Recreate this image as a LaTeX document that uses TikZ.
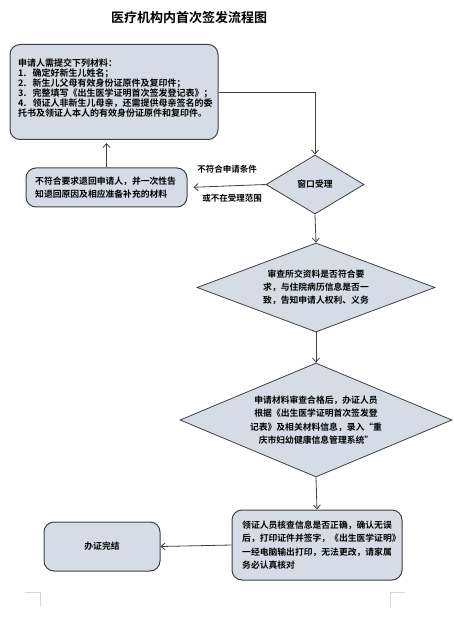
\documentclass[tikz,border=0pt]{standalone}
\usepackage{fontspec}
\setmainfont{Noto Sans CJK SC}[BoldFont={* Bold}]
\usetikzlibrary{shapes.geometric,arrows.meta}
\definecolor{boxfill}{RGB}{214,220,229}
\definecolor{boxline}{RGB}{64,64,64}
\definecolor{markgray}{RGB}{215,215,215}
\tikzset{
  every node/.style={font=\bfseries\fontsize{8.8}{13.3}\selectfont},
  rbox/.style={draw=boxline, fill=boxfill, line width=1pt, rounded corners=10pt, inner sep=0pt},
  dbox/.style={draw=boxline, fill=boxfill, line width=0.8pt, diamond, inner sep=0pt},
  conn/.style={draw=boxline, line width=0.8pt},
  arr/.style={conn, -{Straight Barb[length=4pt,width=7pt,line width=0.8pt]}},
  lbl/.style={font=\bfseries\fontsize{8.5}{10}\selectfont},
}
\begin{document}
\begin{tikzpicture}[x=1pt,y=-1pt]
\useasboundingbox (0,0) rectangle (453,628);
% title
\node[font=\bfseries\fontsize{13}{15}\selectfont] (title) at (189,18) {医疗机构内首次签发流程图};
% top box
\node[rbox, minimum width=208pt, minimum height=95pt] (top) at (114,92) {};
\node[anchor=north west, align=left, font=\bfseries\fontsize{9}{10}\selectfont, inner sep=0pt] (toptext) at (18,59) {申请人需提交下列材料：\\1.\ \ \ 确定好新生儿姓名；\\2.\ \ \ 新生儿父母有效身份证原件及复印件；\\3.\ \ \ 完整填写《出生医学证明首次签发登记表》；\\4.\ \ \ 领证人非新生儿母亲，还需提供母亲签名的委\\托书及领证人本人的有效身份证原件和复印件。};
% diamond 1
\node[dbox, minimum width=98pt, minimum height=59pt, shape aspect=1.66] (d1) at (315,184.5) {窗口受理};
% left box
\node[rbox, minimum width=161pt, minimum height=39pt] (left) at (106.5,187.5) {};
\node[anchor=west, align=left, inner sep=0pt] (lefttext) at (35,187.5) {不符合要求退回申请人，并一次性告\\知退回原因及相应准备补充的材料};
% diamond 2
\node[dbox, minimum width=238pt, minimum height=89pt, shape aspect=2.67, align=center] (d2) at (316,287.5) {审查所交资料是否符合要\\求，与住院病历信息是否一\\致，告知申请人权利、义务};
% diamond 3
\node[dbox, minimum width=272pt, minimum height=114pt, shape aspect=2.4, align=center] (d3) at (316,420) {申请材料审查合格后，办证人员\\根据《出生医学证明首次签发登\\记表》及相关材料信息，录入“重\\庆市妇幼健康信息管理系统”};
% bottom right box
\node[rbox, minimum width=170pt, minimum height=70pt] (br) at (317,545) {};
\node[anchor=west, align=left, inner sep=0pt] (brtext) at (242,545) {领证人员核查信息是否正确，确认无误\\后，打印证件并签字，《出生医学证明》\\一经电脑输出打印，无法更改，请家属\\务必认真核对};
% bottom left box
\node[rbox, minimum width=116pt, minimum height=49pt] (bl) at (102,546.5) {办证完结};
% connectors
\coordinate (c1) at (315,92);
\draw[arr] (top.east |- c1) -- (c1) -- (d1.north);
\draw[arr, shorten >=6pt] (d1.west) -- (left.east);
\node[lbl] (l1) at (227,169) {不符合申请条件};
\node[lbl] (l2) at (232,198) {或不在受理范围};
\draw[arr, shorten >=3pt] (left.north) -- (left.north |- top.south);
\draw[arr] (d1.south) -- (d2.north);
\draw[arr] (d2.south) -- (d3.north);
\draw[arr] (d3.south) -- (br.north);
\draw[arr] (br.west) -- (bl.east);
% corner marks
\draw[markgray, line width=0.8pt] (25,592) -- (40,592) -- (40,607);
\draw[markgray, line width=0.8pt] (405,592) -- (390,592) -- (390,607);
\end{tikzpicture}
\end{document}
